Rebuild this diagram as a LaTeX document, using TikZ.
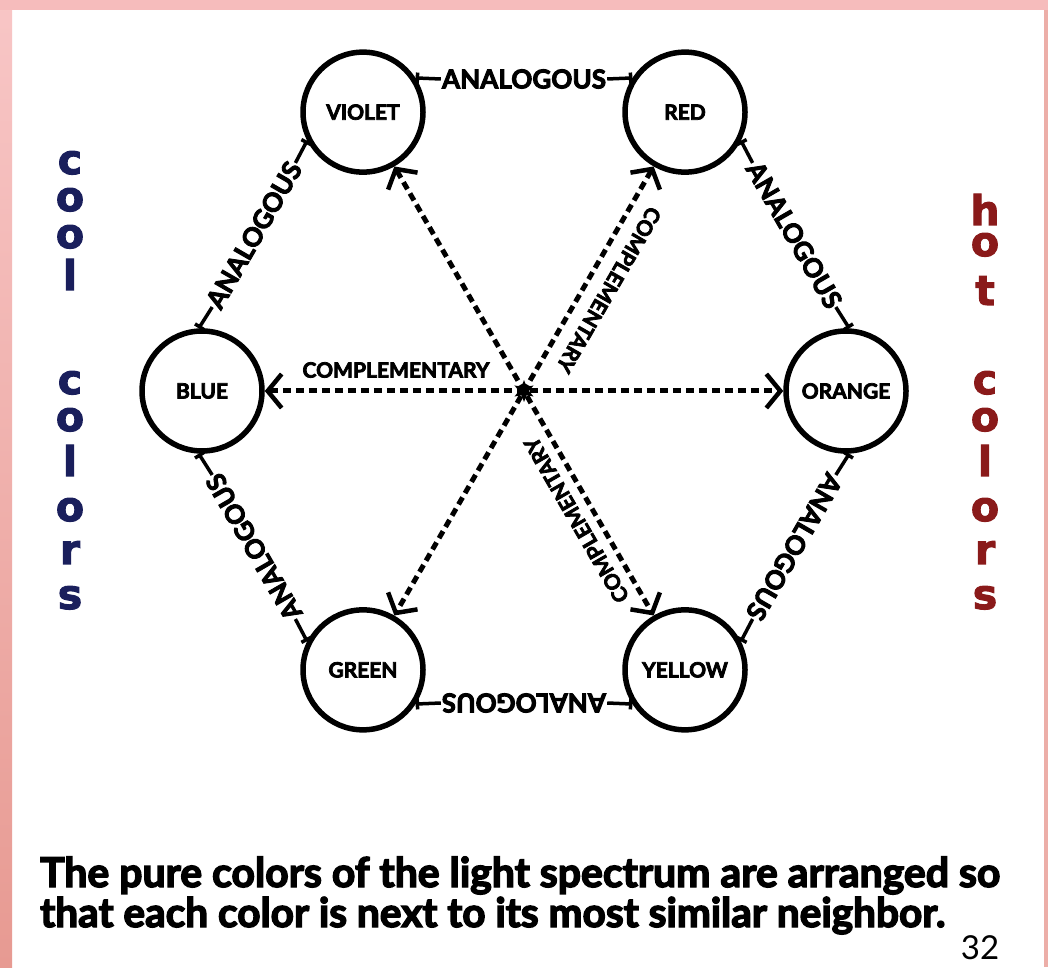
\documentclass[tikz,border=0pt]{standalone}
\usepackage{fontspec}
\setmainfont{Lato}[BoldFeatures={FakeBold=3.5}]
\newfontfamily\vfont{DejaVu Sans}[BoldFeatures={FakeBold=2.5}]
\usetikzlibrary{arrows.meta,shapes.geometric,calc}
\definecolor{pinktop}{HTML}{F6BCBC}
\definecolor{pinklo}{HTML}{E79A92}
\definecolor{pinkhi}{HTML}{F8C6C6}
\definecolor{coolc}{HTML}{1A1F5C}
\definecolor{hotc}{HTML}{8A1A1A}
\begin{document}
\begin{tikzpicture}[x=1pt,y=1pt,
  colorcircle/.style={circle,draw,line width=5.5pt,minimum size=120pt,inner sep=0pt,
    font=\bfseries\fontsize{21}{21}\selectfont},
  analabel/.style={inner xsep=1pt,inner ysep=0pt},
  complabel/.style={inner sep=0pt},
  anatick/.style={line width=3.5pt,{Bar[width=11pt,line width=3.5pt]}-},
  comparrow/.style={line width=5pt,dash pattern=on 8pt off 5pt,
    {Straight Barb[length=14pt,width=34pt,line width=4.5pt]}-{Straight Barb[length=14pt,width=34pt,line width=4.5pt]}},
  vcool/.style={anchor=base,inner sep=0pt,text=coolc,font=\vfont\bfseries\fontsize{41}{41}\selectfont},
  vhot/.style={anchor=base,inner sep=0pt,text=hotc,font=\vfont\bfseries\fontsize{41}{41}\selectfont},
  captionline/.style={anchor=base west,inner sep=0pt,font=\bfseries\fontsize{30}{30}\selectfont}
]
\path[use as bounding box,fill=white] (0,0) rectangle (1048,967);
% pink frame
\shade[top color=pinkhi,bottom color=pinklo] (0,0) rectangle (12,967);
\fill[pinktop] (0,957) rectangle (1048,967);
\fill[pinklo!80!white] (1044,0) rectangle (1048,957);

\coordinate (C) at (524,576);
% colour circles
\node[colorcircle] (V) at ($(C)+(120:322)$) {VIOLET};
\node[colorcircle] (R) at ($(C)+(60:322)$) {RED};
\node[colorcircle] (O) at ($(C)+(0:322)$) {ORANGE};
\node[colorcircle] (Y) at ($(C)+(-60:322)$) {YELLOW};
\node[colorcircle] (G) at ($(C)+(-120:322)$) {GREEN};
\node[colorcircle] (B) at ($(C)+(180:322)$) {BLUE};

% analogous labels
\newcommand{\ana}{\resizebox{164pt}{!}{\bfseries\fontsize{26}{26}\selectfont ANALOGOUS}}
\node[analabel,rotate=0]    (aVR) at ($(C)+(90:312)$)   {\ana};
\node[analabel,rotate=-60]  (aRO) at ($(C)+(30:312)$)   {\ana};
\node[analabel,rotate=-120] (aOY) at ($(C)+(-30:312)$)  {\ana};
\node[analabel,rotate=180]  (aYG) at ($(C)+(-90:312)$)  {\ana};
\node[analabel,rotate=120]  (aGB) at ($(C)+(-150:312)$) {\ana};
\node[analabel,rotate=60]   (aBV) at ($(C)+(150:312)$)  {\ana};

\draw[anatick] (V.33)  -- (aVR.west);  \draw[anatick] (R.147) -- (aVR.east);
\draw[anatick] (R.-27) -- (aRO.west);  \draw[anatick] (O.87)  -- (aRO.east);
\draw[anatick] (O.-87) -- (aOY.west);  \draw[anatick] (Y.27)  -- (aOY.east);
\draw[anatick] (Y.213) -- (aYG.west);  \draw[anatick] (G.327) -- (aYG.east);
\draw[anatick] (G.153) -- (aGB.west);  \draw[anatick] (B.267) -- (aGB.east);
\draw[anatick] (B.93)  -- (aBV.west);  \draw[anatick] (V.207) -- (aBV.east);

% complementary arrows
\draw[comparrow] (V) -- (Y);
\draw[comparrow] (R) -- (G);
\draw[comparrow] (B) -- (O);
\node[star,star points=6,star point ratio=2.2,fill=black,minimum size=22pt,inner sep=0pt] (ctr) at (C) {};

\newcommand{\comp}{\resizebox{187pt}{!}{\bfseries\fontsize{21}{21}\selectfont COMPLEMENTARY}}
\node[complabel,rotate=0]    (cB) at ($(C)+(180:128)+(90:21)$)  {\comp};
\node[complabel,rotate=-120] (cR) at ($(C)+(60:130)+(-30:23)$)  {\comp};
\node[complabel,rotate=120]  (cY) at ($(C)+(-60:138)+(-150:19)$) {\comp};

% cool colors
\node[vcool] (k1) at (70,793) {c};
\node[vcool] (k2) at (70,756) {o};
\node[vcool] (k3) at (70,719) {o};
\node[vcool] (k4) at (70,677) {l};
\node[vcool] (k5) at (70,573) {c};
\node[vcool] (k6) at (70,536) {o};
\node[vcool] (k7) at (70,491) {l};
\node[vcool] (k8) at (70,446) {o};
\node[vcool] (k9) at (70,403) {r};
\node[vcool] (k10) at (70,358) {s};
% hot colors
\node[vhot] (h1) at (985,742) {h};
\node[vhot] (h2) at (985,711) {o};
\node[vhot] (h3) at (985,662) {t};
\node[vhot] (h4) at (985,573) {c};
\node[vhot] (h5) at (985,536) {o};
\node[vhot] (h6) at (985,491) {l};
\node[vhot] (h7) at (985,446) {o};
\node[vhot] (h8) at (985,403) {r};
\node[vhot] (h9) at (985,358) {s};

% caption
\node[captionline] (cap1) at (40,80) {\resizebox{960pt}{!}{The pure colors of the light spectrum are arranged so}};
\node[captionline] (cap2) at (40,40) {\resizebox{905pt}{!}{that each color is next to its most similar neighbor.}};
\node[anchor=base,inner sep=0pt,font=\fontsize{33}{33}\selectfont] (pg) at (980,8) {32};
\end{tikzpicture}
\end{document}
